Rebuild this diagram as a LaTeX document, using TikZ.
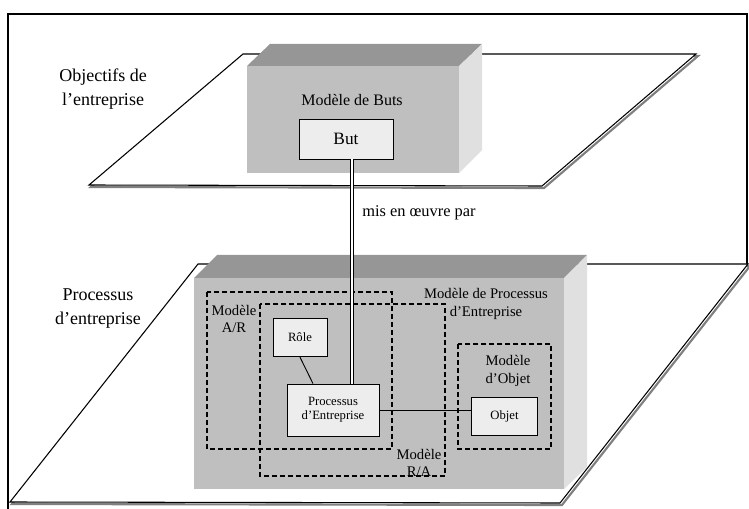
\documentclass[tikz,border=0pt]{standalone}
\usepackage{fontspec}
\setmainfont{Liberation Serif}
\tikzset{
  plane/.style={draw=black, line width=0.8pt, fill=white},
  planeshadow/.style={draw=black!50, line width=1.6pt},
  front/.style={fill=black!25},
  topface/.style={fill=black!41},
  side/.style={fill=black!12},
  elem/.style={draw=black, line width=0.6pt, fill=black!7, inner sep=0pt, align=center},
  modelbox/.style={draw=black, line width=1.2pt, dash pattern=on 3.5pt off 2.5pt},
  lbl/.style={align=center, inner sep=0pt},
  link/.style={draw=black, line width=0.7pt},
}
\begin{document}
\begin{tikzpicture}[x=0.75pt, y=-0.75pt]
  \useasboundingbox (0,0) rectangle (749,509);
  \draw[line width=0.8pt] (8,509) -- (8,14) -- (747,14) -- (747,264);

  % niveau des objectifs
  \draw[planeshadow, shift={(2,2)}] (89,185) -- (243,54) -- (696,54) -- (542,186) -- cycle;
  \draw[plane] (89,185) -- (243,54) -- (696,54) -- (542,186) -- cycle;
  \fill[front] (247,66) rectangle (459,173);
  \fill[topface] (247,66) -- (270,44) -- (482,44) -- (459,66) -- cycle;
  \fill[side] (459,66) -- (482,44) -- (482,150) -- (459,173) -- cycle;

  % niveau des processus
  \draw[planeshadow, shift={(2,2)}] (10,502) -- (198,264) -- (748,264) -- (560,503) -- cycle;
  \draw[plane] (10,502) -- (198,264) -- (748,264) -- (560,503) -- cycle;
  \fill[front] (194,278) rectangle (564,489);
  \fill[topface] (194,278) -- (217,255) -- (587,255) -- (564,278) -- cycle;
  \fill[side] (564,278) -- (587,255) -- (587,467) -- (564,489) -- cycle;

  \draw[modelbox] (207,292) rectangle (392,449);
  \draw[modelbox] (260,304) rectangle (445,476);
  \draw[modelbox] (458,344) rectangle (551,449);

  \node[lbl, font=\fontsize{13.5}{18}\selectfont] (objectifs) at (103,89) {Objectifs de\\l’entreprise};
  \node[lbl, font=\fontsize{13.5}{18}\selectfont] (processus) at (98,309) {Processus\\d’entreprise};
  \node[lbl, font=\fontsize{12}{14}\selectfont] (mbuts) at (352,100) {Modèle de Buts};
  \node[lbl, anchor=west, font=\fontsize{12.3}{14}\selectfont] (mise) at (362,213) {mis en œuvre par};
  \node[lbl, font=\fontsize{11}{13.5}\selectfont] (mprocessus) at (486,304) {Modèle de Processus\\d’Entreprise};
  \node[lbl, font=\fontsize{11}{12.75}\selectfont] (mar) at (234,318.5) {Modèle\\A/R};
  \node[lbl, font=\fontsize{11}{12.75}\selectfont] (mra) at (419,462.5) {Modèle\\R/A};
  \node[lbl, font=\fontsize{11}{13.5}\selectfont] (mobjet) at (508,371) {Modèle\\d’Objet};

  \node[elem, minimum width=70.5pt, minimum height=30pt, font=\fontsize{13}{15}\selectfont] (but) at (346,139) {But};
  \node[elem, minimum width=40.5pt, minimum height=29pt, font=\fontsize{9.5}{10.5}\selectfont] (role) at (300,337.5) {Rôle};
  \node[elem, minimum width=69pt, minimum height=39pt, font=\fontsize{9.5}{10.5}\selectfont] (proc) at (333,410) {Processus\\d’Entreprise};
  \node[elem, minimum width=49pt, minimum height=29pt, font=\fontsize{9.5}{10.5}\selectfont] (objet) at (504.5,416.5) {Objet};

  \coordinate (axe) at (352,0);
  \draw[double, double distance=1.1pt, line width=0.75pt] (but.south -| axe) -- (proc.north -| axe);
  \draw[link] (role.south) -- ([xshift=-15pt]proc.north);
  \draw[link] (proc.east) -- (proc.east -| objet.west);
\end{tikzpicture}
\end{document}
